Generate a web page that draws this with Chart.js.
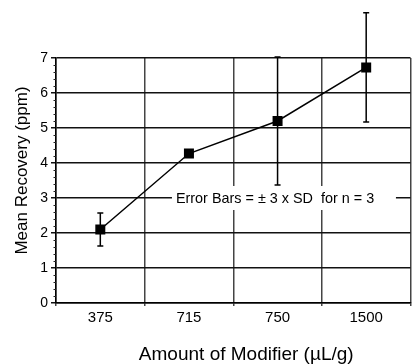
<!DOCTYPE html>
<html>
<head>
<meta charset="utf-8">
<script src="https://cdn.jsdelivr.net/npm/chart.js@4/dist/chart.umd.min.js"></script>
<style>
  html, body { margin: 0; padding: 0; background: #fff; overflow: hidden; }
  #wrap { width: 418px; height: 364px; }
</style>
</head>
<body>
<div id="wrap"><canvas id="c" width="418" height="364"></canvas></div>
<script>
// ---- data ----
const categories = ['375', '715', '750', '1500'];
const meanRecovery = [2.1, 4.27, 5.2, 6.73];
const errorHalf = [0.47, 0.1, 1.83, 1.56];   // ±3 x SD
const yTicks = [0, 1, 2, 3, 4, 5, 6, 7];
const xTitle = 'Amount of Modifier (\u00B5L/g)';
const yTitle = 'Mean Recovery (ppm)';
const noteText = 'Error Bars = \u00B1 3 x SD  for n = 3';

const FONT = "'Liberation Sans', Arial, Helvetica, sans-serif";

const extras = {
  id: 'extras',
  beforeDatasetsDraw(chart) {
    const {ctx, scales: {x, y}} = chart;
    // note box on the value-3 gridline
    const ty = y.getPixelForValue(3);
    const tx = x.getPixelForValue(1) - 13;
    ctx.save();
    ctx.fillStyle = '#fff';
    ctx.fillRect(tx - 4, ty - 12, 224, 24);
    ctx.font = '14.4px ' + FONT;
    ctx.fillStyle = '#000';
    ctx.textBaseline = 'middle';
    ctx.textAlign = 'left';
    ctx.fillText(noteText, tx, ty + 1);
    // minor ticks on y axis
    ctx.strokeStyle = '#222';
    ctx.lineWidth = 1;
    const left = chart.chartArea.left;
    for (let i = 0; i < yTicks.length - 1; i++) {
      for (let k = 1; k < 5; k++) {
        const py = Math.round(y.getPixelForValue(yTicks[i] + k * 0.2)) + 0.5;
        ctx.beginPath();
        ctx.moveTo(left - 2.5, py);
        ctx.lineTo(left, py);
        ctx.stroke();
      }
    }
    ctx.restore();
  },
  afterDatasetsDraw(chart) {
    const {ctx, scales: {x, y}} = chart;
    ctx.save();
    ctx.strokeStyle = '#000';
    ctx.lineWidth = 1.5;
    meanRecovery.forEach((v, i) => {
      const px = x.getPixelForValue(i);
      const top = y.getPixelForValue(v + errorHalf[i]);
      const bot = y.getPixelForValue(v - errorHalf[i]);
      ctx.beginPath();
      ctx.moveTo(px, top); ctx.lineTo(px, bot);
      ctx.moveTo(px - 3, top); ctx.lineTo(px + 3, top);
      ctx.moveTo(px - 3, bot); ctx.lineTo(px + 3, bot);
      ctx.stroke();
    });
    ctx.restore();
  },
  afterDraw(chart) {
    const {ctx, chartArea: ca} = chart;
    ctx.save();
    ctx.fillStyle = '#000';
    ctx.textAlign = 'center';
    ctx.textBaseline = 'middle';
    // x axis title
    ctx.font = '19px ' + FONT;
    ctx.fillText(xTitle, (ca.left + ca.right) / 2 + 13, ca.bottom + 52);
    // y axis title
    ctx.font = '17px ' + FONT;
    ctx.translate(ca.left - 34, (ca.top + ca.bottom) / 2 - 10);
    ctx.rotate(-Math.PI / 2);
    ctx.fillText(yTitle, 0, 0);
    ctx.restore();
  }
};

new Chart(document.getElementById('c'), {
  type: 'line',
  data: {
    labels: categories,
    datasets: [{
      data: meanRecovery,
      borderColor: '#000',
      borderWidth: 1.5,
      backgroundColor: '#000',
      pointStyle: 'rect',
      pointRadius: 6,
      pointBackgroundColor: '#000',
      pointBorderColor: '#000',
      tension: 0,
      clip: false
    }]
  },
  options: {
    responsive: false,
    animation: false,
    events: [],
    layout: { padding: { left: 0, right: 2, top: 58, bottom: 0 } },
    plugins: { legend: { display: false }, tooltip: { enabled: false } },
    scales: {
      x: {
        type: 'category',
        offset: true,
        afterFit(s) { s.height = 61; },
        grid: { offset: true, color: '#444', lineWidth: 1.5, tickLength: 3, drawTicks: true },
        border: { color: '#000', width: 1.5 },
        ticks: { color: '#000', font: { family: FONT, size: 15 }, padding: 3, maxRotation: 0 },
        title: { display: false }
      },
      y: {
        min: 0, max: 7,
        afterFit(s) { s.width = 56; },
        afterBuildTicks(s) { s.ticks = yTicks.map(v => ({ value: v })); },
        grid: { color: '#111', lineWidth: 1.5, tickLength: 5 },
        border: { color: '#000', width: 1.5 },
        ticks: { color: '#000', font: { family: FONT, size: 14 }, padding: 3 },
        title: { display: false }
      }
    }
  },
  plugins: [extras]
});
</script>
</body>
</html>
